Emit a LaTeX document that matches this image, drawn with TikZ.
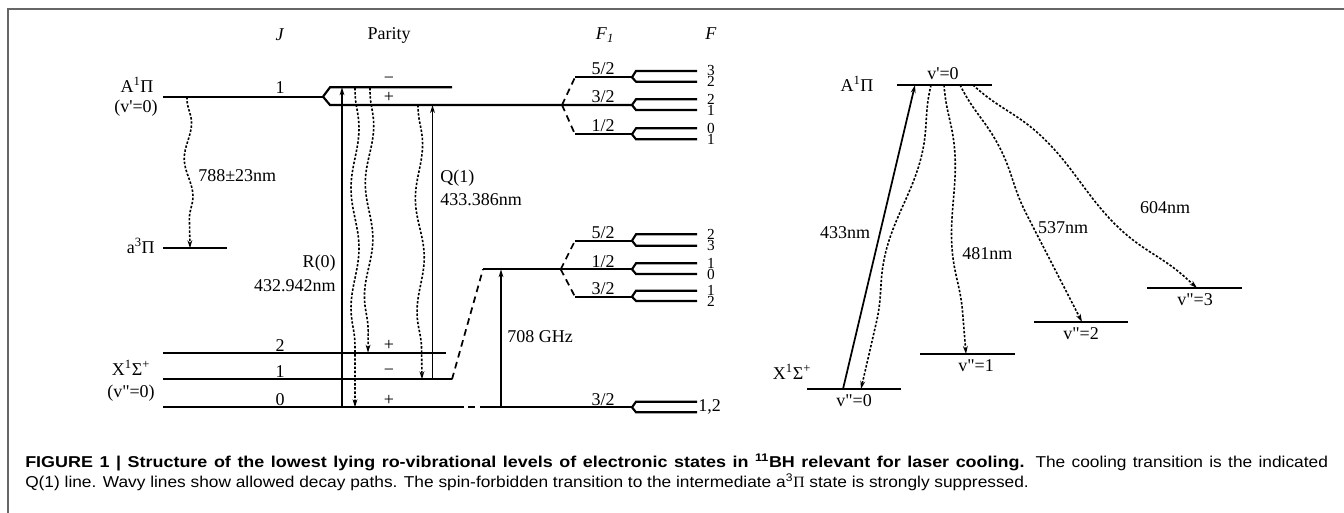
\documentclass[tikz,border=0pt]{standalone}
\usepackage{fontspec}
\setmainfont{Liberation Serif}
\newfontfamily\capfont{Liberation Sans}[FakeStretch=1.10, BoldFeatures={FakeStretch=1.14}]
\usetikzlibrary{arrows.meta, decorations.pathmorphing}

\tikzset{
  lvl/.style={line width=1.6pt},
  fan/.style={line width=1.3pt, dash pattern=on 5pt off 3.5pt},
  pump/.style={-{Stealth[length=6pt, width=3.6pt]}, line width=1.3pt},
  decay/.style={-{Stealth[length=6pt, width=3.6pt]}, line width=1.2pt,
    dash pattern=on 1.8pt off 1.3pt, decorate,
    decoration={snake, amplitude=3pt, segment length=#1, pre length=2pt, post length=7pt}},
  decay/.default=60pt,
  lab/.style={font=\fontsize{13.5}{16}\selectfont, inner sep=0pt},
  hfs/.style={font=\fontsize{11.5}{14}\selectfont, inner sep=0pt},
  captxt/.style={font=\capfont\fontsize{11.8}{14}\selectfont, inner sep=0pt, anchor=base west},
}

\begin{document}
\begin{tikzpicture}[x=0.75pt, y=-0.75pt]
  \useasboundingbox (0,0) rectangle (1344,513);

  % Frame
  \draw[black!60, line width=1.5pt] (8,513) -- (8,9) -- (1344,9);

  % Column headers
  \node[lab] (hJ) at (280,35) {\textit{J}};
  \node[lab] (hP) at (389,35) {Parity};
  \node[lab] (hF1) at (605,35) {\textit{F}\textsubscript{\textit{1}}};
  \node[lab] (hF) at (711,34) {\textit{F}};

  % A state, J=1 with parity doublet
  \draw[lvl] (163,96.7) -- (323,96.7);
  \draw[lvl] (323,96.7) -- (330,87.3) -- (452,87.3);
  \draw[lvl] (323,96.7) -- (330,105) -- (632,105);
  \node[lab] (A) at (137,85) {A\textsuperscript{1}Π};
  \node[lab] (Av) at (136,108) {(v\textquotesingle=0)};
  \node[lab] (AJ) at (280,88) {1};
  \node[lab] (Am) at (389,80) {−};
  \node[lab] (Ap) at (389,97) {+};

  % a state
  \draw[lvl] (163,248.3) -- (227,248.3);
  \node[lab, anchor=east] (a) at (155,246) {a\textsuperscript{3}Π};

  % X state, J=0,1,2
  \draw[lvl] (163,352.7) -- (446,352.7);
  \draw[lvl] (163,379.3) -- (452,379.3);
  \draw[lvl] (163,407.3) -- (457,407.3);
  \draw[fan] (452,379.3) -- (483,269.3);
  \draw[fan] (457,407.3) -- (483,407.3);
  \draw[lvl] (483,269.3) -- (632,269.3);
  \draw[lvl] (483,407.3) -- (632,407.3);
  \node[lab] (X) at (131,368) {X\textsuperscript{1}Σ\textsuperscript{+}};
  \node[lab] (Xv) at (131,393) {(v\textquotedbl=0)};
  \foreach \yy/\jj/\pp in {345.7/2/+, 372/1/−, 400/0/+} {
    \node[lab] at (280,\yy) {\jj};
    \node[lab] at (389,\yy) {\pp};
  }

  % F1 fans
  \draw[lvl] (575,77.3) -- (632,77.3);
  \draw[lvl] (575,134.3) -- (632,134.3);
  \draw[fan] (562,105) -- (575,77.3);
  \draw[fan] (562,105) -- (575,134.3);
  \draw[lvl] (575,240.7) -- (632,240.7);
  \draw[lvl] (575,296.7) -- (632,296.7);
  \draw[fan] (560.7,269.3) -- (575,240.7);
  \draw[fan] (560.7,269.3) -- (575,296.7);
  \foreach \yy/\ff in {69/5\slash 2, 96.7/3\slash 2, 125.7/1\slash 2,
                       232.7/5\slash 2, 261.7/1\slash 2, 288.3/3\slash 2, 400/3\slash 2} {
    \node[lab] at (603,\yy) {\ff};
  }

  % F hyperfine doublets
  \foreach \yf/\ya/\yb/\fa/\fb in {77.3/71/81.7/3/2, 105/99.3/110/2/1, 134.3/128.3/139.3/0/1,
      240.7/234.3/245.7/2/3, 269.3/263.3/274/1/0, 296.7/290.7/301/1/2} {
    \draw[lvl] (632,\yf) -- (636,\ya) -- (697,\ya);
    \draw[lvl] (632,\yf) -- (636,\yb) -- (697,\yb);
    \node[hfs] at (711,\ya) {\fa};
    \node[hfs] at (711,\yb) {\fb};
  }
  \draw[lvl] (632,407.3) -- (636,401.7) -- (697,401.7);
  \draw[lvl] (632,407.3) -- (636,412.3) -- (697,412.3);
  \node[lab, anchor=west] (F12) at (698,407) {1,2};

  % Laser transitions
  \coordinate (R0a) at (342,407.3);
  \coordinate (R0b) at (342,87.3);
  \coordinate (Q1a) at (432.5,379.3);
  \coordinate (Q1b) at (432.5,105);
  \coordinate (MWa) at (501,407.3);
  \coordinate (MWb) at (501,269.3);
  \draw[pump] (R0a) -- (R0b);
  \draw[pump] (Q1a) -- (Q1b);
  \draw[pump] (MWa) -- (MWb);
  \node[lab, anchor=east] (R0) at (336,263) {R(0)};
  \node[lab, anchor=east] (R0l) at (336,286) {432.942nm};
  \node[lab, anchor=west] (Q1) at (440,178) {Q(1)};
  \node[lab, anchor=west] (Q1l) at (440,200) {433.386nm};
  \node[lab, anchor=west] (MW) at (507,337) {708 GHz};

  % Decay paths
  \coordinate (da1) at (187,97);   \coordinate (da2) at (190,248.3);
  \coordinate (d01) at (355,88);   \coordinate (d02) at (355,407.3);
  \coordinate (d21) at (370,88);   \coordinate (d22) at (368,352.7);
  \coordinate (d11) at (418,105);  \coordinate (d12) at (422,379.3);
  \draw[decay=55pt] (da1) -- (da2);
  \draw[decay=90pt] (d01) -- (d02);
  \draw[decay=85pt] (d21) -- (d22);
  \draw[decay=85pt] (d11) -- (d12);
  \node[lab, anchor=west] (l788) at (198,176) {788±23nm};

  % Right: vibrational branching
  \draw[lvl] (897,85) -- (992,85);
  \draw[lvl] (807,389) -- (901,389);
  \draw[lvl] (920,354) -- (1015,354);
  \draw[lvl] (1034,322) -- (1128,322);
  \draw[lvl] (1147,288) -- (1242,288);
  \node[lab] (A2) at (857,84) {A\textsuperscript{1}Π};
  \node[lab] (X2) at (792,372) {X\textsuperscript{1}Σ\textsuperscript{+}};
  \node[lab] (vu) at (943,74) {v\textquotesingle=0};
  \foreach \xx/\yy/\vv in {854/401/0, 976/366/1, 1081/334/2, 1195/300/3} {
    \node[lab] at (\xx,\yy) {v\textquotedbl=\vv};
  }
  \coordinate (p1) at (843,389);  \coordinate (p2) at (915,85);
  \draw[pump] (p1) -- (p2);
  \node[lab] (l433) at (845,233) {433nm};
  \coordinate (e0) at (931,85);  \coordinate (f0) at (861,389);
  \coordinate (e1) at (944,85);  \coordinate (f1) at (966,354);
  \coordinate (e2) at (960,85);  \coordinate (f2) at (1082,322);
  \coordinate (e3) at (973,85);  \coordinate (f3) at (1197,288);
  \draw[decay=160pt, decoration={amplitude=5pt}] (e0) -- (f0);
  \draw[decay=150pt, decoration={amplitude=4pt}] (e1) -- (f1);
  \draw[decay=170pt, decoration={amplitude=5pt}] (e2) -- (f2);
  \draw[decay=190pt, decoration={amplitude=6pt}] (e3) -- (f3);
  \node[lab, anchor=west] (l481) at (962,254) {481nm};
  \node[lab] (l537) at (1063,228) {537nm};
  \node[lab] (l604) at (1165,208) {604nm};

  % Caption
  \node[captxt] (cap1) at (25,467) {\makebox[977pt][s]{\textbf{FIGURE 1 | Structure of the lowest lying ro-vibrational levels of electronic states in \textsuperscript{11}BH relevant for laser cooling.} The cooling transition is the indicated}};
  \node[captxt] (cap2) at (25,487) {Q(1) line. Wavy lines show allowed decay paths. The spin-forbidden transition to the intermediate a\textsuperscript{3}{\rmfamily Π} state is strongly suppressed.};
\end{tikzpicture}
\end{document}
